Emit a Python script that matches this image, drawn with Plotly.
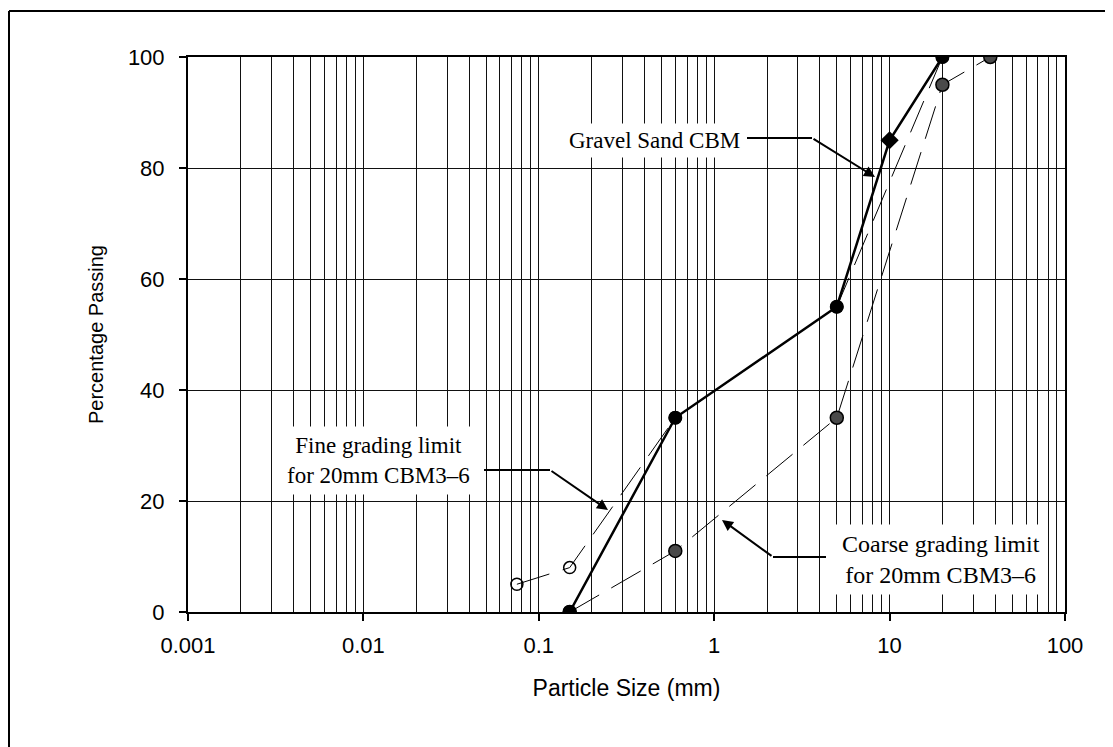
import plotly.graph_objects as go

# ---- data ----
gravel_x = [0.15, 0.6, 5, 10, 20]
gravel_y = [0, 35, 55, 85, 100]
gravel_symbols = ["circle", "circle", "circle", "diamond", "circle"]

fine_x = [0.075, 0.15, 0.6, 5, 20]
fine_y = [5, 8, 35, 55, 100]

coarse_x = [0.15, 0.6, 5, 20, 37.5]
coarse_y = [0, 11, 35, 95, 100]

x_tick_vals = [0.001, 0.01, 0.1, 1, 10, 100]
x_tick_text = ["0.001", "0.01", "0.1", "1", "10", "100"]
y_tick_vals = [0, 20, 40, 60, 80, 100]

# page body has an 8px margin; figure sized to fit the window
OFF = 8
W, H = 1113 - OFF, 747 - OFF
L, R, T, B = 188, 1065, 57, 612   # plot area in screen pixels


def px(x):
    return (x - L) / (R - L)


def py(y):
    return (B - y) / (B - T)


fig = go.Figure()

fig.add_trace(go.Scatter(
    x=fine_x, y=fine_y, mode="lines+markers", name="Fine grading limit",
    line=dict(color="black", width=1, dash="34px,14px"),
    marker=dict(symbol="circle-open", size=12, color="black", line=dict(width=1.5)),
    showlegend=False))

fig.add_trace(go.Scatter(
    x=coarse_x, y=coarse_y, mode="lines+markers", name="Coarse grading limit",
    line=dict(color="black", width=1, dash="34px,14px"),
    marker=dict(symbol="circle", size=13, color="#4a4a4a", line=dict(width=1.5, color="black")),
    showlegend=False))

fig.add_trace(go.Scatter(
    x=gravel_x, y=gravel_y, mode="lines+markers", name="Gravel Sand CBM",
    line=dict(color="black", width=2.5),
    marker=dict(symbol=gravel_symbols, size=14, color="black"),
    showlegend=False))

minor_vals = [m * 10 ** e for e in range(-3, 2) for m in range(2, 10)]

fig.update_xaxes(
    type="log", range=[-3, 2],
    tickmode="array", tickvals=x_tick_vals, ticktext=x_tick_text,
    ticks="outside", ticklen=7, tickwidth=2, tickcolor="black",
    ticklabelstandoff=6,
    showgrid=True, gridcolor="#111", gridwidth=1,
    minor=dict(tickvals=minor_vals, showgrid=True, gridcolor="#111", gridwidth=1, ticks=""),
    showline=True, linecolor="black", linewidth=2, mirror=True,
    tickfont=dict(family="Liberation Sans", size=22, color="black"),
    title=dict(text="Particle Size (mm)", standoff=22,
               font=dict(family="Liberation Sans", size=23, color="black")),
    zeroline=False)

fig.update_yaxes(
    range=[0, 100], tickmode="array", tickvals=y_tick_vals,
    ticks="outside", ticklen=7, tickwidth=1.5, tickcolor="black",
    ticklabelstandoff=10,
    showgrid=True, gridcolor="#111", gridwidth=1,
    showline=True, linecolor="black", linewidth=2, mirror=True,
    tickfont=dict(family="Liberation Sans", size=22, color="black"),
    title=dict(text="Percentage Passing", standoff=19,
               font=dict(family="Liberation Sans", size=20, color="black")),
    zeroline=False)

serif = dict(family="Liberation Serif", size=23, color="black")

annotations = [
    dict(xref="paper", yref="paper", x=px(654), y=py(140), text="Gravel Sand CBM",
         xanchor="center", yanchor="middle",
         showarrow=False, font=serif, bgcolor="white", borderpad=4),
    dict(xref="paper", yref="paper", x=px(378), y=py(460),
         text="Fine grading limit<br>for 20mm CBM3\u20136",
         xanchor="center", yanchor="middle",
         showarrow=False, font=serif, bgcolor="white", borderpad=6),
    dict(xref="paper", yref="paper", x=px(941), y=py(559),
         text="Coarse grading limit<br>for 20mm CBM3\u20136",
         xanchor="center", yanchor="middle",
         showarrow=False, font=dict(family="Liberation Serif", size=24, color="black"),
         bgcolor="white", borderpad=6),
    # arrows
    dict(xref="paper", yref="paper", x=px(875), y=py(177), ax=812 - 875, ay=138 - 177,
         text="", showarrow=True, arrowhead=2, arrowsize=1.1, arrowwidth=2, arrowcolor="black"),
    dict(xref="paper", yref="paper", x=px(608), y=py(510), ax=550 - 608, ay=470 - 510,
         text="", showarrow=True, arrowhead=2, arrowsize=1.1, arrowwidth=2, arrowcolor="black"),
    dict(xref="paper", yref="paper", x=px(722), y=py(520), ax=773 - 722, ay=557 - 520,
         text="", showarrow=True, arrowhead=2, arrowsize=1.1, arrowwidth=2, arrowcolor="black"),
]

shapes = [
    # connector horizontal segments
    dict(type="line", xref="paper", yref="paper", x0=px(747), x1=px(812), y0=py(138), y1=py(138),
         line=dict(color="black", width=2)),
    dict(type="line", xref="paper", yref="paper", x0=px(484), x1=px(550), y0=py(470), y1=py(470),
         line=dict(color="black", width=2)),
    dict(type="line", xref="paper", yref="paper", x0=px(773), x1=px(826), y0=py(557), y1=py(557),
         line=dict(color="black", width=2)),
    # outer frame (cropped at right and bottom)
    dict(type="line", xref="paper", yref="paper", x0=px(9), x1=px(1115), y0=py(11), y1=py(11),
         line=dict(color="black", width=2)),
    dict(type="line", xref="paper", yref="paper", x0=px(9), x1=px(9), y0=py(11), y1=py(750),
         line=dict(color="black", width=2)),
]

fig.update_layout(
    width=W, height=H,
    margin=dict(l=L - OFF, r=1113 - R, t=T - OFF, b=747 - B),
    paper_bgcolor="white", plot_bgcolor="white",
    annotations=annotations, shapes=shapes,
    showlegend=False)

fig.write_html("out.html")
